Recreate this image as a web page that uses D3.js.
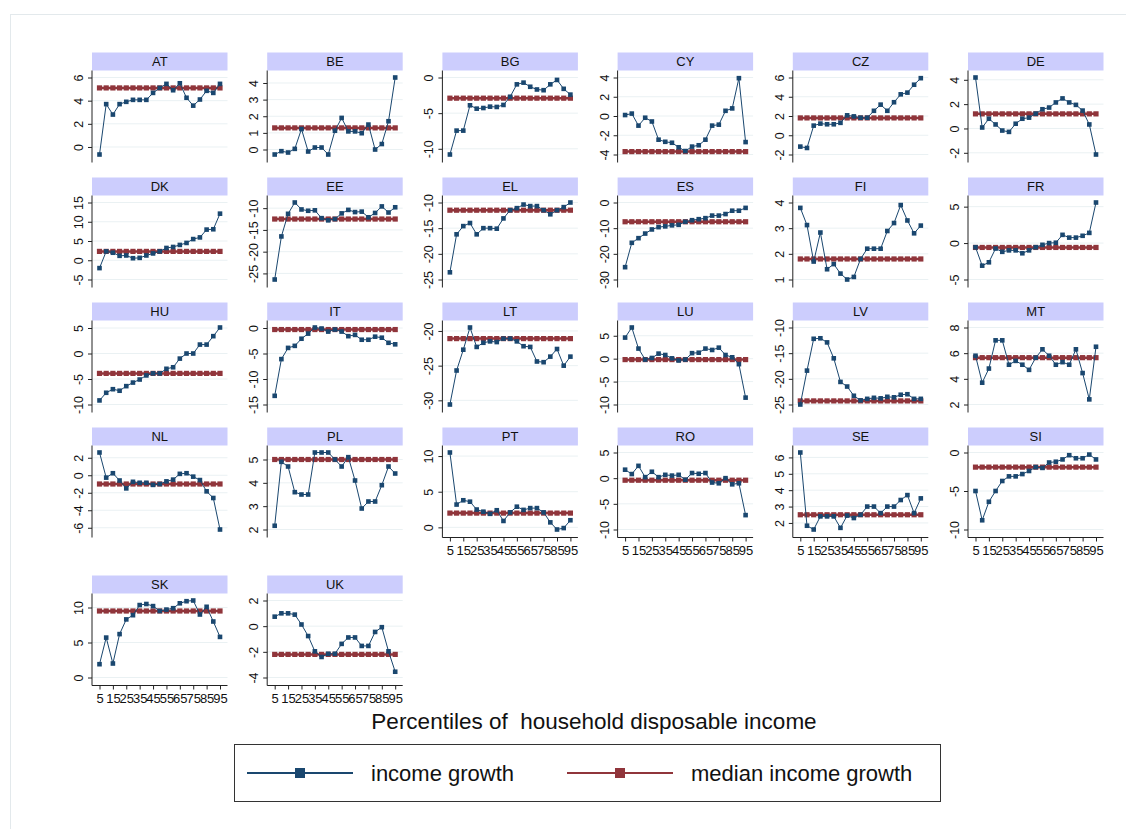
<!DOCTYPE html>
<html>
<head>
<meta charset="utf-8">
<script src="https://cdn.jsdelivr.net/npm/d3@7"></script>
<style>
  body { margin: 0; background: #fff; }
  svg { display: block; font-family: Arial, "Liberation Sans", sans-serif; }
</style>
</head>
<body>
<div id="chart"></div>
<script>
// Income growth by percentile of household disposable income, per country
const countries = ["AT", "BE", "BG", "CY", "CZ", "DE", "DK", "EE", "EL", "ES", "FI", "FR", "HU",
  "IT", "LT", "LU", "LV", "MT", "NL", "PL", "PT", "RO", "SE", "SI", "SK", "UK"];

const percentiles = [5, 10, 15, 20, 25, 30, 35, 40, 45, 50, 55, 60, 65, 70, 75, 80, 85, 90, 95];
const xTickValues = [5, 15, 25, 35, 45, 55, 65, 75, 85, 95];

const incomeGrowth = [
  [-0.65, 3.7, 2.8, 3.7, 3.9, 4.07, 4.07, 4.07, 4.67, 5.1, 5.45, 4.9, 5.5, 4.25, 3.57, 4.1, 4.85, 4.67, 5.45], // AT
  [-0.3, -0.1, -0.18, 0.04, 1.23, -0.12, 0.12, 0.12, -0.3, 1.13, 1.9, 1.09, 1.09, 0.98, 1.5, 0, 0.33, 1.7, 4.33], // BE
  [-10.8, -7.45, -7.45, -3.9, -4.37, -4.28, -4.09, -4.13, -3.85, -2.7, -0.96, -0.72, -1.3, -1.68, -1.78, -0.96, -0.34, -1.59, -2.4], // BG
  [0.1, 0.25, -1.0, -0.18, -0.57, -2.46, -2.68, -2.78, -3.25, -3.64, -3.18, -3.04, -2.46, -1.0, -0.9, 0.54, 0.79, 3.93, -2.71], // CY
  [-1.18, -1.32, 1.0, 1.21, 1.14, 1.14, 1.29, 2.07, 1.96, 1.82, 1.82, 2.54, 3.18, 2.54, 3.43, 4.25, 4.43, 5.25, 5.93], // CZ
  [4.19, 0.08, 0.8, 0.33, -0.17, -0.28, 0.39, 0.8, 0.89, 1.22, 1.58, 1.72, 2.14, 2.47, 2.14, 1.94, 1.47, 0.33, -2.14], // DE
  [-2.04, 2.3, 1.95, 1.15, 1.24, 0.53, 0.62, 1.24, 1.77, 2.3, 3.19, 3.45, 3.98, 4.5, 5.5, 5.93, 7.96, 8.05, 12.1], // DK
  [-26.4, -16.5, -11.3, -8.7, -10.3, -10.6, -10.5, -12.3, -12.8, -12.5, -11.2, -10.4, -10.9, -10.8, -12.1, -11.1, -9.6, -11.0, -9.8], // EE
  [-23.6, -16.2, -14.6, -14.0, -16.2, -15.0, -15.0, -15.1, -13.1, -11.5, -11.1, -10.4, -10.7, -10.7, -11.5, -12.3, -11.5, -10.9, -10.0], // EL
  [-25.2, -15.7, -13.9, -12.1, -10.5, -9.6, -9.3, -8.9, -8.7, -7.5, -6.9, -6.5, -6.1, -5.1, -5.1, -4.5, -3.2, -3.2, -2.1], // ES
  [3.79, 3.12, 1.7, 2.83, 1.4, 1.6, 1.23, 1.0, 1.1, 1.8, 2.2, 2.2, 2.2, 2.89, 3.2, 3.9, 3.3, 2.8, 3.1], // FI
  [-0.57, -3.1, -2.64, -0.75, -1.2, -1.0, -1.0, -1.4, -1.0, -0.57, -0.24, 0, 0.05, 1.13, 0.75, 0.75, 1.0, 1.4, 5.57], // FR
  [-9.2, -7.7, -7.0, -7.3, -6.4, -5.7, -5.1, -4.3, -3.9, -3.9, -3.0, -2.7, -1.0, 0, 0, 1.75, 1.75, 3.4, 5.1], // HU
  [-13.3, -6.1, -3.9, -3.5, -2.1, -1.1, 0.1, -0.1, -0.7, -0.3, -0.7, -1.6, -1.35, -2.3, -2.3, -1.7, -1.9, -2.9, -3.2], // IT
  [-30.6, -25.7, -22.7, -19.5, -22.3, -21.7, -21.5, -21.6, -21.1, -21.1, -21.5, -22.2, -22.3, -24.4, -24.5, -23.7, -22.6, -25.0, -23.7], // LT
  [4.6, 6.8, 2.2, -0.2, 0.15, 1.1, 0.8, 0.07, -0.4, -0.2, 1.2, 1.3, 2.2, 1.9, 2.4, 0.8, 0.3, -1.2, -8.5], // LU
  [-25.0, -18.4, -12.2, -12.1, -12.9, -16.0, -20.6, -21.5, -23.3, -24.2, -23.9, -23.7, -23.8, -23.5, -23.6, -23.1, -23.0, -23.9, -23.9], // LV
  [5.8, 3.7, 4.8, 7.0, 7.0, 5.1, 5.4, 5.1, 4.7, 5.65, 6.3, 5.8, 5.1, 5.3, 5.1, 6.3, 4.45, 2.4, 6.5], // MT
  [2.6, -0.27, 0.23, -0.6, -1.5, -0.75, -0.86, -0.86, -1.1, -1.0, -0.7, -0.5, 0.16, 0.23, -0.16, -0.55, -1.84, -2.6, -6.2], // NL
  [2.16, 4.9, 4.7, 3.6, 3.5, 3.5, 5.3, 5.3, 5.3, 5.0, 4.7, 5.1, 4.1, 2.9, 3.2, 3.2, 3.9, 4.7, 4.4], // PL
  [10.5, 3.2, 3.8, 3.6, 2.5, 2.2, 1.9, 2.4, 0.9, 2.1, 2.9, 2.45, 2.7, 2.7, 2.1, 0.7, -0.3, -0.1, 1.0], // PT
  [1.65, 0.8, 2.4, 0.2, 1.25, 0.2, 0.65, 0.5, 0.65, -0.3, 1.0, 0.85, 1.0, -0.85, -1.0, 0, -1.2, -1.0, -7.2], // RO
  [6.3, 1.83, 1.6, 2.4, 2.4, 2.4, 1.7, 2.45, 2.3, 2.5, 3.0, 3.0, 2.6, 3.0, 3.0, 3.4, 3.7, 2.6, 3.5], // SE
  [-5.0, -8.8, -6.4, -5.0, -3.7, -3.1, -3.1, -2.8, -2.4, -1.9, -2.0, -1.3, -1.2, -0.9, -0.35, -0.75, -0.75, -0.27, -0.9], // SI
  [1.9, 5.7, 2.0, 6.2, 8.3, 8.9, 10.35, 10.5, 10.2, 9.5, 9.7, 9.9, 10.6, 10.9, 11.0, 9.0, 10.1, 8.0, 5.8], // SK
  [0.74, 1.0, 1.0, 0.9, 0.13, -0.77, -1.96, -2.4, -2.15, -2.15, -1.38, -0.88, -0.88, -1.54, -1.54, -0.45, -0.08, -1.96, -3.55] // UK
];

const medianGrowth = [5.1, 1.3, -2.9, -3.7, 1.8, 1.2, 2.3, -12.5, -11.5, -7.5, 1.8, -0.6, -3.9,
  -0.3, -21.1, -0.2, -24.3, 5.65, -1.0, 5.0, 2.0, -0.4, 2.5, -1.9, 9.5, -2.2];

const yTicks = [
  [0, 2, 4, 6], [0, 1, 2, 3, 4], [-10, -5, 0], [-4, -2, 0, 2, 4], [-2, 0, 2, 4, 6], [-2, 0, 2, 4],
  [-5, 0, 5, 10, 15], [-25, -20, -15, -10], [-25, -20, -15, -10], [-30, -20, -10, 0], [1, 2, 3, 4], [-5, 0, 5],
  [-10, -5, 0, 5], [-15, -10, -5, 0], [-30, -25, -20], [-10, -5, 0, 5], [-25, -20, -15, -10], [2, 4, 6, 8],
  [-6, -4, -2, 0, 2], [2, 3, 4, 5], [0, 5, 10], [-10, -5, 0, 5], [2, 3, 4, 5, 6], [-10, -5, 0],
  [0, 5, 10], [-4, -2, 0, 2]
];

const legendLabels = ["income growth", "median income growth"];
const xTitle = "Percentiles of  household disposable income";

const colors = { growth: "#1a476f", median: "#90353b", strip: "#cccdfd", grid: "#eaf1f3", axis: "#222" };

const width = 1126, height = 829;
const panelW = 135.5, headerH = 18, plotH = 92;
const colLeft = (c) => 92 + c * 175.2;
const rowTop = (r) => (r < 4 ? 52.5 + r * 125 : 575.5);

const svg = d3.select("#chart").append("svg")
  .attr("width", width)
  .attr("height", height);

svg.append("rect")
  .attr("width", width).attr("height", height)
  .attr("fill", "#fff");

// outer graph region border
svg.append("rect")
  .attr("x", 10.5).attr("y", 14.5)
  .attr("width", 1300).attr("height", 1000)
  .attr("fill", "none")
  .attr("stroke", "#e3e9ec");

countries.forEach((name, k) => {
  const row = Math.floor(k / 6), col = k % 6;
  const left = colLeft(col), right = left + panelW;
  const top = rowTop(row);
  const plotTop = top + headerH, plotBottom = plotTop + plotH;
  const data = incomeGrowth[k];
  const med = medianGrowth[k];
  const ticks = yTicks[k];

  const x = d3.scaleLinear().domain([5, 95]).range([left + 7.5, right - 7.5]);
  const y = d3.scaleLinear()
    .domain(d3.extent(data.concat(ticks, [med])))
    .range([plotBottom - 8, plotTop + 7]);

  const g = svg.append("g").attr("class", "panel");

  // header strip
  g.append("rect")
    .attr("x", left).attr("y", top)
    .attr("width", panelW).attr("height", headerH)
    .attr("fill", colors.strip);
  g.append("text")
    .attr("x", (left + right) / 2).attr("y", top + headerH / 2 + 4.5)
    .attr("text-anchor", "middle")
    .attr("font-size", 13)
    .attr("fill", "#111")
    .text(name);

  // gridlines
  g.append("g").selectAll("line").data(ticks).join("line")
    .attr("x1", left).attr("x2", right)
    .attr("y1", (d) => y(d)).attr("y2", (d) => y(d))
    .attr("stroke", colors.grid);

  // y axis
  const yAxis = g.append("g")
    .attr("transform", `translate(${left},0)`)
    .call(d3.axisLeft(y).tickValues(ticks).tickSize(4).tickSizeOuter(0).tickFormat(d3.format("d")));
  yAxis.select(".domain").remove();
  yAxis.selectAll(".tick line").attr("stroke", colors.axis);
  yAxis.selectAll(".tick text")
    .attr("x", null).attr("dy", null)
    .attr("transform", "translate(-9,0) rotate(-90)")
    .attr("text-anchor", "middle")
    .attr("font-size", 12.5)
    .attr("fill", "#111")
    .text((d) => (d < 0 ? "-" + Math.abs(d) : d));
  g.append("line")
    .attr("x1", left).attr("x2", left)
    .attr("y1", plotTop).attr("y2", plotBottom)
    .attr("stroke", colors.axis);

  // x axis only on the last panel of each column
  if (k + 6 >= countries.length) {
    const xAxis = g.append("g")
      .attr("transform", `translate(0,${plotBottom})`)
      .call(d3.axisBottom(x).tickValues(xTickValues).tickSize(4).tickSizeOuter(0).tickPadding(4));
    xAxis.select(".domain").remove();
    xAxis.selectAll(".tick line").attr("stroke", colors.axis);
    xAxis.selectAll(".tick text").attr("font-size", 13).attr("fill", "#111");
    g.append("line")
      .attr("x1", left).attr("x2", right)
      .attr("y1", plotBottom).attr("y2", plotBottom)
      .attr("stroke", colors.axis);
  }

  // median income growth
  const medLine = d3.line().x((d) => x(d)).y(() => y(med));
  g.append("path")
    .datum(percentiles)
    .attr("d", medLine)
    .attr("fill", "none")
    .attr("stroke", colors.median)
    .attr("stroke-width", 2.5);
  g.append("g").selectAll("rect").data(percentiles).join("rect")
    .attr("x", (d) => x(d) - 2.6).attr("y", y(med) - 2.6)
    .attr("width", 5.2).attr("height", 5.2)
    .attr("fill", colors.median);

  // income growth
  const line = d3.line().x((d, i) => x(percentiles[i])).y((d) => y(d));
  g.append("path")
    .datum(data)
    .attr("d", line)
    .attr("fill", "none")
    .attr("stroke", colors.growth)
    .attr("stroke-width", 1);
  g.append("g").selectAll("rect").data(data).join("rect")
    .attr("x", (d, i) => x(percentiles[i]) - 2.3).attr("y", (d) => y(d) - 2.3)
    .attr("width", 4.6).attr("height", 4.6)
    .attr("fill", colors.growth);
});

// x title
svg.append("text")
  .attr("x", 594).attr("y", 729)
  .attr("text-anchor", "middle")
  .attr("font-size", 22.5)
  .attr("fill", "#111")
  .style("white-space", "pre")
  .text(xTitle);

// legend
const legend = svg.append("g");
legend.append("rect")
  .attr("x", 234.5).attr("y", 744.5)
  .attr("width", 706).attr("height", 57)
  .attr("fill", "#fff")
  .attr("stroke", "#333");

const legendItems = [
  { label: legendLabels[0], color: colors.growth, x0: 247, width: 2 },
  { label: legendLabels[1], color: colors.median, x0: 567, width: 2 }
];
legendItems.forEach((item) => {
  const ly = 773;
  legend.append("line")
    .attr("x1", item.x0).attr("x2", item.x0 + 106)
    .attr("y1", ly).attr("y2", ly)
    .attr("stroke", item.color)
    .attr("stroke-width", item.width);
  legend.append("rect")
    .attr("x", item.x0 + 53 - 5).attr("y", ly - 5)
    .attr("width", 10).attr("height", 10)
    .attr("fill", item.color);
  legend.append("text")
    .attr("x", item.x0 + 124).attr("y", ly + 8)
    .attr("font-size", 22)
    .attr("fill", "#111")
    .text(item.label);
});
</script>
</body>
</html>
